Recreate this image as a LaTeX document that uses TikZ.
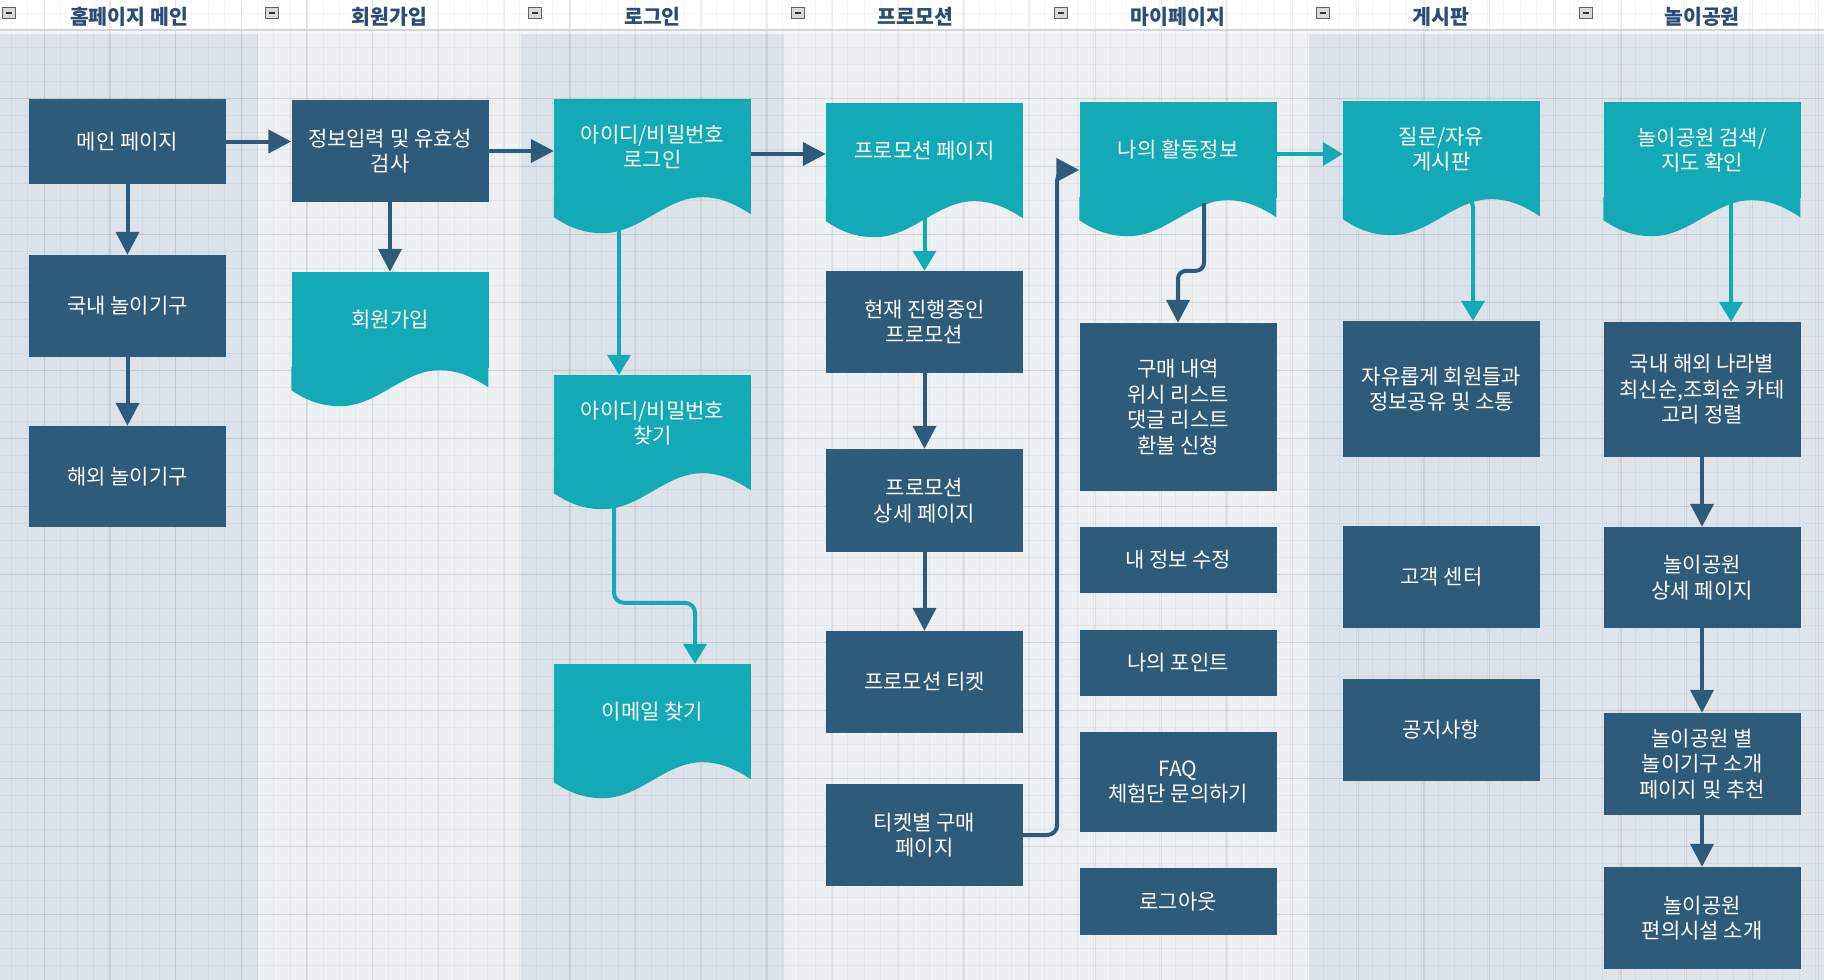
\documentclass[tikz,border=0pt]{standalone}
\usepackage{fontspec}
\setmainfont{Noto Sans CJK KR}
\usetikzlibrary{arrows.meta}
\definecolor{boxblue}{RGB}{46,91,122}
\definecolor{docteal}{RGB}{19,170,181}
\definecolor{laneD}{RGB}{219,226,233}
\definecolor{laneE}{RGB}{222,228,235}
\definecolor{laneL}{RGB}{237,240,243}
\definecolor{headtxt}{RGB}{45,75,115}
\definecolor{headline}{RGB}{210,214,219}
\begin{document}
\begin{tikzpicture}[x=1pt,y=-1pt,
  box/.style={rectangle, fill=boxblue, text=white, minimum width=197pt, inner sep=3pt, align=center, font=\fontsize{21}{25.5}\selectfont},
  docbox/.style={box, fill=docteal, minimum height=96pt},
  darr/.style={draw=boxblue, line width=4pt, -{Triangle[length=23pt,width=23pt]}},
  tarr/.style={draw=docteal, line width=4pt, -{Triangle[length=20pt,width=23pt]}},
  lanehead/.style={text=headtxt, font=\bfseries\fontsize{20.5}{22}\selectfont},
  gridmin/.style={black, opacity=0.04, line width=1pt},
  gridmaj/.style={black, opacity=0.07, line width=1.3pt}]
\useasboundingbox (0,0) rectangle (1824,980);
% lanes
\fill[white] (0,0) rectangle (1824,980);
\foreach \lx/\lc in {0/laneD,258/laneL,521/laneD,784/laneL,1047/laneL,1309/laneD,1572/laneE}
  \fill[\lc] (\lx,34) rectangle ++(263,946);
\fill[laneL!60!white] (0,30) rectangle (1824,34);
% grid
\foreach \gx in {11.5,27.9,...,1824} \draw[gridmin] (\gx,0) -- (\gx,980);
\foreach \gy in {13.3,30.3,...,980} \draw[gridmin] (0,\gy) -- (1824,\gy);
\foreach \gx in {44.3,110,...,1824} \draw[gridmaj] (\gx,0) -- (\gx,980);
\foreach \gy in {98.3,166.3,...,980} \draw[gridmaj] (0,\gy) -- (1824,\gy);
\draw[headline, line width=1.5pt] (0,30) -- (1824,30);
% lane headers
\foreach \hx/\ix/\htxt [count=\i] in {129/2/홈페이지 메인,389.5/265/회원가입,652.5/528/로그인,915.5/791/프로모션,1178/1054/마이페이지,1441/1316/게시판,1702/1579/놀이공원}{
  \draw[draw=gray!75!black, fill=gray!30, line width=0.8pt] (\ix,7) rectangle ++(13,11);
  \draw[black!80, line width=2pt] (\ix+3.5,12.5) -- ++(6,0);
  \node[lanehead] (lane\i) at (\hx,17) {\htxt};
}

% homepage
\node[box, minimum height=85pt] (main) at (127.5,141.5){메인 페이지};
\node[box, minimum height=102pt] (dom) at (127.5,306){국내 놀이기구};
\node[box, minimum height=101pt] (ovs) at (127.5,476.5){해외 놀이기구};
% signup
\node[box, minimum height=102pt] (info) at (390,151){정보입력 및 유효성\\검사};
\node[docbox] (signup) at (390,320){회원가입};
% login
\node[docbox] (login) at (652.5,147){아이디/비밀번호\\로그인};
\node[docbox] (findid) at (652.5,423){아이디/비밀번호\\찾기};
\node[docbox] (email) at (652.5,712){이메일 찾기};
% promotion
\node[docbox] (promo) at (924.5,151){프로모션 페이지};
\node[box, minimum height=102pt] (now) at (924.5,322){현재 진행중인\\프로모션};
\node[box, minimum height=103pt] (detail) at (924.5,500.5){프로모션\\상세 페이지};
\node[box, minimum height=102pt] (ticket) at (924.5,682){프로모션 티켓};
\node[box, minimum height=102pt] (buy) at (924.5,835){티켓별 구매\\페이지};
% mypage
\node[docbox] (act) at (1178,150){나의 활동정보};
\node[box, minimum height=168pt] (hist) at (1178,407){구매 내역\\위시 리스트\\댓글 리스트\\환불 신청};
\node[box, minimum height=66pt] (myinfo) at (1178,560){내 정보 수정};
\node[box, minimum height=66pt] (point) at (1178,663){나의 포인트};
\node[box, minimum height=100pt] (faq) at (1178,782){FAQ\\체험단 문의하기};
\node[box, minimum height=67pt] (logout) at (1178,901.5){로그아웃};
% board
\node[docbox] (board) at (1441.5,149){질문/자유\\게시판};
\node[box, minimum height=136pt] (free) at (1441.5,389){자유롭게 회원들과\\정보공유 및 소통};
\node[box, minimum height=102pt] (cs) at (1441.5,577){고객 센터};
\node[box, minimum height=102pt] (notice) at (1441.5,730){공지사항};
% park
\node[docbox] (search) at (1702,150){놀이공원 검색/\\지도 확인};
\node[box, minimum height=135pt] (nat) at (1702,389.5){국내 해외 나라별\\최신순,조회순 카테\\고리 정렬};
\node[box, minimum height=101pt] (parkdet) at (1702,577.5){놀이공원\\상세 페이지};
\node[box, minimum height=102pt] (parkper) at (1702,764){놀이공원 별\\놀이기구 소개\\페이지 및 추천};
\node[box, minimum height=102pt] (facil) at (1702,918){놀이공원\\편의시설 소개};

% wavy bottoms of the documents
\foreach \d in {signup,login,findid,email,promo,act,board,search}
  \fill[docteal, shift={(\d.south west)}] (0,-1) -- (197,-1) -- (197,19) .. controls (180,8) and (166,2) .. (148,2) .. controls (112,2) and (86,38) .. (49,38) .. controls (27,38) and (12,30) .. (0,22) -- cycle;

\draw[darr](main) -- (main -| info.west);
\draw[darr](main) -- (dom);
\draw[darr](dom) -- (ovs);
\draw[darr](info) -- (info -| login.west);
\draw[darr](info) -- (signup);
\draw[darr]([yshift=-3pt]login.east |- promo.west) -- ([yshift=-3pt]promo.west);
\draw[tarr]([xshift=-33.5pt]login.south) -- ([xshift=-33.5pt]findid.north);
\draw[tarr, rounded corners=10pt]([xshift=-38.5pt]findid.south) |- ([shift={(42.5,-61)}]email.north) -- ([xshift=42.5pt]email.north);
\draw[tarr](promo) -- (now);
\draw[darr](now) -- (detail);
\draw[darr](detail) -- (ticket);
\draw[darr, rounded corners=10pt](buy.east) -- ++(34,0) |- ([yshift=-20pt]act.west);
\draw[darr, rounded corners=8pt]([shift={(26,5)}]act.south) |- ([yshift=52pt]hist.north) -- (hist.north);
\draw[tarr]([yshift=-4pt]act.east) -- ([yshift=-4pt]act.east -| board.west);
\draw[tarr, rounded corners=10pt]([xshift=24pt]board.south) -| ([xshift=31.5pt]free.north);
\draw[tarr]([xshift=29pt]search.south) -- ([xshift=29pt]nat.north);
\draw[darr](nat) -- (parkdet);
\draw[darr](parkdet) -- (parkper);
\draw[darr](parkper) -- (facil);

\end{tikzpicture}
\end{document}
